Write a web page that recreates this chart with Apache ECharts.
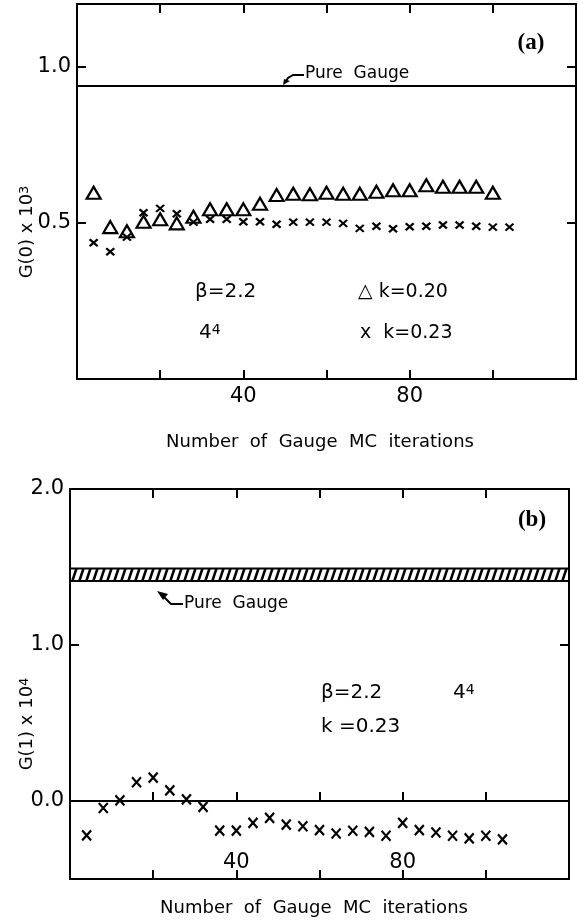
<!DOCTYPE html>
<html>
<head>
<meta charset="utf-8">
<script src="https://cdn.jsdelivr.net/npm/echarts@6/dist/echarts.min.js"></script>
<style>
html, body { margin: 0; padding: 0; background: #fff; }
#main { width: 578px; height: 922px; }
</style>
</head>
<body>
<div id="main"></div>
<script>
// iterations (x) for each set of points
var itersTri = [4, 8, 12, 16, 20, 24, 28, 32, 36, 40, 44, 48, 52, 56, 60, 64, 68, 72, 76, 80, 84, 88, 92, 96, 100];
var itersCross = [4, 8, 12, 16, 20, 24, 28, 32, 36, 40, 44, 48, 52, 56, 60, 64, 68, 72, 76, 80, 84, 88, 92, 96, 100, 104];

// (a) G(0) x 10^3
var g0k020 = [0.596, 0.486, 0.473, 0.503, 0.511, 0.498, 0.519, 0.543, 0.543, 0.543, 0.561, 0.589, 0.593,
              0.591, 0.596, 0.593, 0.593, 0.599, 0.604, 0.604, 0.620, 0.615, 0.615, 0.615, 0.596];
var g0k023 = [0.436, 0.407, 0.454, 0.532, 0.546, 0.529, 0.502, 0.511, 0.511, 0.503, 0.503, 0.495, 0.502,
              0.502, 0.502, 0.498, 0.482, 0.489, 0.481, 0.487, 0.489, 0.493, 0.493, 0.489, 0.486, 0.486];
var pureGaugeA = 0.938;

// (b) G(1) x 10^4
var g1k023 = [-0.22, -0.045, 0.004, 0.12, 0.15, 0.068, 0.01, -0.038, -0.19, -0.19, -0.14, -0.108, -0.151,
              -0.162, -0.187, -0.208, -0.191, -0.198, -0.223, -0.14, -0.187, -0.202, -0.223, -0.24, -0.223, -0.246];
var pureGaugeB = [1.41, 1.49];

// ticks
var xTicks = [20, 40, 60, 80, 100];
var xLabels = [40, 80];
var yTicksA = [0.5, 1.0];
var yTicksB = [0, 1, 2];

var FONT = 'DejaVu Sans';

function zip(xs, ys) {
	var out = [];
	for (var i = 0; i < ys.length; i++) out.push([xs[i], ys[i]]);
	return out;
}

//hatched fill for the pure gauge band
function hatch() {
	var c = document.createElement('canvas');
	c.width = 7; c.height = 21;
	var ctx = c.getContext('2d');
	ctx.strokeStyle = '#000';
	ctx.lineWidth = 2.6;
	for (var k = -1; k <= 1; k++) {
		ctx.beginPath();
		ctx.moveTo(k * 7, 21);
		ctx.lineTo(k * 7 + 7, 0);
		ctx.stroke();
	}
	return c;
}

function xAxis(grid, pos, labels, extra) {
	var ax = {
		type: 'value', gridIndex: grid, position: pos, min: 0, max: 120,
		axisLine: { show: true, onZero: false, lineStyle: { color: '#000', width: 2 } },
		axisTick: { show: true, inside: true, length: 9, customValues: xTicks, lineStyle: { color: '#000', width: 2 } },
		axisLabel: labels ? { show: true, customValues: xLabels, color: '#000', fontSize: 21, fontFamily: FONT, margin: 7 } : { show: false },
		splitLine: { show: false }
	};
	if (extra) for (var k in extra) ax[k] = extra[k];
	return ax;
}

function yAxis(grid, pos, min, max, ticks, labels) {
	return {
		type: 'value', gridIndex: grid, position: pos, min: min, max: max,
		axisLine: { show: true, onZero: false, lineStyle: { color: '#000', width: 2 } },
		axisTick: { show: true, inside: true, length: 9, customValues: ticks, lineStyle: { color: '#000', width: 2 } },
		axisLabel: labels ? {
			show: true, customValues: ticks, color: '#000', fontSize: 21, fontFamily: FONT, margin: 6,
			formatter: function (v) { return v.toFixed(1); }
		} : { show: false },
		splitLine: { show: false }
	};
}

function txt(x, y, text, size, extra) {
	var st = {
		text: text, fill: '#000', fontSize: size, fontFamily: FONT, align: 'left', verticalAlign: 'middle',
		rich: {
			n: { fontSize: size, fontFamily: FONT, fill: '#000' },
			sup: { fontSize: Math.round(size * 0.7), fontFamily: FONT, verticalAlign: 'top', fill: '#000' }
		}
	};
	if (extra) for (var k in extra) st[k] = extra[k];
	return { type: 'text', x: x, y: y, z: 100, style: st };
}

var myChart = echarts.init(document.getElementById('main'), null, { renderer: 'canvas' });

var option = {
	backgroundColor: '#fff',
	animation: false,
	grid: [
		{ left: 77, top: 4, width: 499, height: 375 },
		{ left: 70, top: 489, width: 499, height: 390 }
	],
	xAxis: [
		xAxis(0, 'bottom', true),
		xAxis(0, 'top', false),
		xAxis(1, 'bottom', false),
		xAxis(1, 'top', false),
		// zero line of (b), labels sit above it
		xAxis(1, 'bottom', true, {
			axisLine: { show: true, onZero: true, lineStyle: { color: '#000', width: 2 } },
			axisLabel: { show: true, inside: true, customValues: xLabels, color: '#000', fontSize: 21, fontFamily: FONT, margin: 6 }
		})
	],
	yAxis: [
		yAxis(0, 'left', 0, 1.2, yTicksA, true),
		yAxis(0, 'right', 0, 1.2, yTicksA, false),
		yAxis(1, 'left', -0.5, 2, yTicksB, true),
		yAxis(1, 'right', -0.5, 2, yTicksB, false)
	],
	series: [
		{
			name: 'k=0.20', type: 'scatter', xAxisIndex: 0, yAxisIndex: 0,
			symbol: 'triangle', symbolSize: [14, 12],
			itemStyle: { color: '#fff', borderColor: '#000', borderWidth: 2.2, opacity: 1 },
			data: zip(itersTri, g0k020),
			markLine: {
				silent: true, symbol: 'none', label: { show: false },
				lineStyle: { color: '#000', width: 2, type: 'solid' },
				data: [{ yAxis: pureGaugeA }]
			}
		},
		{
			name: 'k=0.23', type: 'scatter', xAxisIndex: 0, yAxisIndex: 0,
			symbol: 'path://M0,0L10,10M10,0L0,10', symbolSize: [8, 7],
			itemStyle: { color: 'none', borderColor: '#000', borderWidth: 2.2, opacity: 1 },
			data: zip(itersCross, g0k023)
		},
		{
			name: 'G1 k=0.23', type: 'scatter', xAxisIndex: 2, yAxisIndex: 2,
			symbol: 'path://M0,0L10,10M10,0L0,10', symbolSize: [9, 10],
			itemStyle: { color: 'none', borderColor: '#000', borderWidth: 2.2, opacity: 1 },
			data: zip(itersCross, g1k023),
			markArea: {
				silent: true,
				itemStyle: { color: { image: hatch(), repeat: 'repeat' }, opacity: 1, borderColor: '#000', borderWidth: 2 },
				data: [[{ yAxis: pureGaugeB[0] }, { yAxis: pureGaugeB[1] }]]
			}
		}
	],
	graphic: [
		// panel (a)
		txt(531, 43, '(a)', 23, { fontFamily: 'Liberation Serif', fontWeight: 'bold', align: 'center' }),
		txt(305, 74, 'Pure  Gauge', 17),
		{ type: 'polyline', z: 100, shape: { points: [[304, 75], [293, 75], [288, 78], [286, 81]] }, style: { stroke: '#000', lineWidth: 2, fill: null } },
		{ type: 'polygon', z: 100, shape: { points: [[283, 85], [284, 79], [290, 81]] }, style: { fill: '#000' } },
		txt(195, 292, 'β=2.2', 20),
		txt(358, 292, '△ k=0.20', 19),
		txt(199, 333, '{n|4}{sup|4}', 20),
		txt(360, 333, 'x  k=0.23', 19),
		txt(320, 442, 'Number  of  Gauge  MC  iterations', 18, { align: 'center' }),
		{ type: 'text', x: 27, y: 232, rotation: Math.PI / 2, z: 100,
		  style: { text: '{n|G(0) x 10}{sup|3}', align: 'center', verticalAlign: 'middle', fill: '#000',
		           rich: { n: { fontSize: 18, fontFamily: FONT }, sup: { fontSize: 13, fontFamily: FONT, verticalAlign: 'top' } } } },
		// panel (b)
		txt(532, 520, '(b)', 23, { fontFamily: 'Liberation Serif', fontWeight: 'bold', align: 'center' }),
		txt(184, 604, 'Pure  Gauge', 17),
		{ type: 'polyline', z: 100, shape: { points: [[183, 604], [171, 604], [163, 596]] }, style: { stroke: '#000', lineWidth: 2, fill: null } },
		{ type: 'polygon', z: 100, shape: { points: [[157, 591], [168, 594], [163, 600]] }, style: { fill: '#000' } },
		txt(321, 693, 'β=2.2', 20),
		txt(453, 693, '{n|4}{sup|4}', 20),
		txt(321, 727, 'k =0.23', 20),
		txt(314, 908, 'Number  of  Gauge  MC  iterations', 18, { align: 'center' }),
		{ type: 'text', x: 27, y: 724, rotation: Math.PI / 2, z: 100,
		  style: { text: '{n|G(1) x 10}{sup|4}', align: 'center', verticalAlign: 'middle', fill: '#000',
		           rich: { n: { fontSize: 18, fontFamily: FONT }, sup: { fontSize: 13, fontFamily: FONT, verticalAlign: 'top' } } } }
	]
};
myChart.setOption(option);
</script>
</body>
</html>
